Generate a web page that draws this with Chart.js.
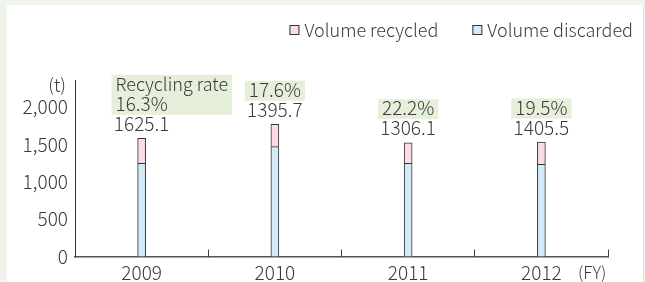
<!DOCTYPE html>
<html><head><meta charset="utf-8">
<script src="https://cdn.jsdelivr.net/npm/chart.js@4.4.1/dist/chart.umd.min.js"></script>
<style>
html,body{margin:0;padding:0;background:#eff5ec;}
canvas{display:block;}
</style></head><body>
<canvas id="c" width="645" height="282"></canvas>
<script>
const categories = ['2009', '2010', '2011', '2012'];
const volumeDiscarded = [1247, 1469, 1247, 1233];
const volumeRecycled = [334, 300, 275, 299];
const totalLabels = ['1625.1', '1395.7', '1306.1', '1405.5'];
const rateLabels = ['16.3%', '17.6%', '22.2%', '19.5%'];
const rateCaption = 'Recycling rate';
const yTickValues = [0, 500, 1000, 1500, 2000];
const yUnit = '(t)';
const xUnit = '(FY)';
const seriesNames = ['Volume discarded', 'Volume recycled'];

const FF = '"Noto Sans CJK JP", "Noto Sans", sans-serif';
const FW = '300';
const FS = 18;
const FN = 19;
const TXT = '#3a3a3a';
const BLUE = '#d3ebf8';
const PINK = '#fadbe7';
const HL = '#e5efd9';
const fnt = s => FW + ' ' + s + 'px ' + FF;

const bgPlugin = {
  id: 'bg',
  beforeDraw(chart) {
    const ctx = chart.ctx;
    ctx.save();
    ctx.fillStyle = '#eff5ec';
    ctx.fillRect(0, 0, chart.width, chart.height);
    ctx.fillStyle = '#ffffff';
    ctx.fillRect(7, 5, 636, chart.height - 5);
    ctx.strokeStyle = '#dfe5dc';
    ctx.lineWidth = 1;
    ctx.beginPath();
    ctx.moveTo(643.5, 5);
    ctx.lineTo(643.5, chart.height);
    ctx.stroke();
    ctx.restore();
  }
};

const annPlugin = {
  id: 'ann',
  afterDraw(chart) {
    const ctx = chart.ctx;
    ctx.save();
    ctx.textBaseline = 'middle';
    const m0 = chart.getDatasetMeta(0);
    const m1 = chart.getDatasetMeta(1);
    categories.forEach((c, i) => {
      const e0 = m0.data[i], e1 = m1.data[i];
      const x = e1.x;
      const topY = Math.min(e0.y, e1.y);
      const rowH = 20;
      const totalY = topY - 14.5;
      const rateY = totalY - rowH;
      const capY = rateY - rowH;
      const rate = rateLabels[i];
      ctx.font = fnt(FN);
      const wRate = ctx.measureText(rate).width;
      const rateLeft = x - wRate / 2;
      let bl = rateLeft - 4, br = rateLeft + wRate + 4, bt = rateY - 9, bb = rateY + 11;
      if (i === 0) {
        ctx.font = fnt(FS);
        const wc = ctx.measureText(rateCaption).width;
        br = Math.max(br, rateLeft + wc + 4);
        bt = capY - 9;
      }
      ctx.fillStyle = HL;
      ctx.fillRect(bl, bt, br - bl, bb - bt);
      ctx.fillStyle = TXT;
      ctx.textAlign = 'left';
      if (i === 0) { ctx.font = fnt(FS); ctx.fillText(rateCaption, rateLeft, capY); }
      ctx.font = fnt(FN);
      ctx.fillText(rate, rateLeft, rateY);
      ctx.textAlign = 'center';
      ctx.fillText(totalLabels[i], x, totalY);
    });
    const ys = chart.scales.y, xs = chart.scales.x;
    ctx.font = fnt(FS);
    ctx.textAlign = 'right';
    ctx.fillText(yUnit, 66, ys.top + 5);
    ctx.textAlign = 'left';
    ctx.font = fnt(FS - 1);
    ctx.fillText(xUnit, xs.right - 30, 273);
    ctx.font = fnt(FS);
    const items = [
      { label: chart.data.datasets[1].label, color: chart.data.datasets[1].backgroundColor },
      { label: chart.data.datasets[0].label, color: chart.data.datasets[0].backgroundColor }
    ];
    let right = 633;
    const ly = 30;
    for (let k = items.length - 1; k >= 0; k--) {
      const it = items[k];
      const w = ctx.measureText(it.label).width;
      const tx = right - w;
      ctx.fillStyle = TXT;
      ctx.textAlign = 'left';
      ctx.fillText(it.label, tx, ly);
      const sx = tx - 15;
      ctx.fillStyle = it.color;
      ctx.fillRect(sx, ly - 5, 10, 10);
      ctx.strokeStyle = '#333';
      ctx.lineWidth = 1;
      ctx.strokeRect(sx + 0.5, ly - 4.5, 9, 9);
      right = sx - 34;
    }
    ctx.restore();
  }
};

new Chart(document.getElementById('c'), {
  type: 'bar',
  data: {
    labels: categories,
    datasets: [
      { label: seriesNames[0], data: volumeDiscarded, backgroundColor: BLUE, borderColor: '#333', borderWidth: 1, barThickness: 8 },
      { label: seriesNames[1], data: volumeRecycled, backgroundColor: PINK, borderColor: '#333', borderWidth: 1, barThickness: 8 }
    ]
  },
  options: {
    responsive: false,
    animation: false,
    devicePixelRatio: 1,
    layout: { padding: { top: 80, right: 37, left: 0, bottom: 0 } },
    plugins: { legend: { display: false }, tooltip: { enabled: false } },
    scales: {
      x: {
        stacked: true,
        grid: { display: true, offset: true, drawOnChartArea: false, drawTicks: true, tickLength: -7, color: '#444', lineWidth: 1 },
        border: { display: true, color: '#555', width: 1.5 },
        ticks: { color: TXT, font: { family: FF, size: FN, weight: FW }, padding: 12, maxRotation: 0 },
        afterFit(s) { s.height = 25.5; }
      },
      y: {
        stacked: true,
        min: 0,
        max: 2361,
        grid: { display: false, drawTicks: false },
        border: { display: true, color: '#333', width: 1 },
        afterBuildTicks(s) { s.ticks = yTickValues.map(v => ({ value: v })); },
        ticks: {
          color: TXT, font: { family: FF, size: FN, weight: FW }, padding: 7,
          callback: v => v.toLocaleString('en-US')
        },
        afterFit(s) { s.width = 75; }
      }
    }
  },
  plugins: [bgPlugin, annPlugin]
});
</script>
</body></html>
